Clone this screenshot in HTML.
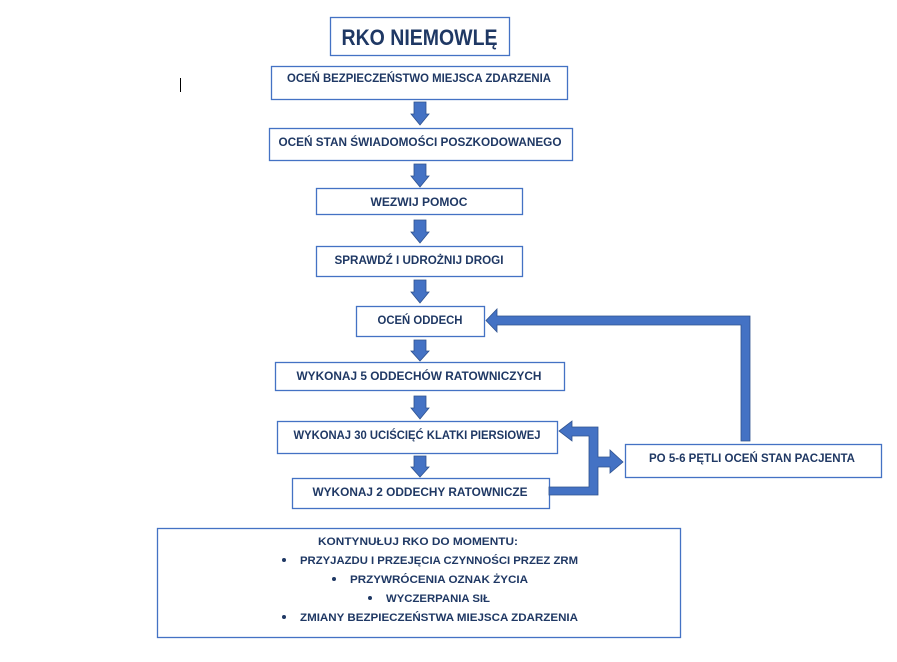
<!DOCTYPE html>
<html><head><meta charset="utf-8"><style>
html,body{margin:0;padding:0;background:#fff;}
svg{display:block;}
text{font-family:"Liberation Sans",sans-serif;font-weight:bold;fill:#1f3864;}
</style></head><body>
<svg width="897" height="662" viewBox="0 0 897 662" xmlns="http://www.w3.org/2000/svg">
<g fill="#fff" stroke="#4472c4" stroke-width="1.3">
<rect x="330.5" y="17.5" width="179" height="38"/>
<rect x="271.5" y="66.5" width="296" height="33"/>
<rect x="269.5" y="128.5" width="303" height="32"/>
<rect x="316.5" y="188.5" width="206" height="26"/>
<rect x="316.5" y="246.5" width="206" height="30"/>
<rect x="356.5" y="306.5" width="128" height="30"/>
<rect x="275.5" y="362.5" width="289" height="28"/>
<rect x="277.5" y="421.5" width="280" height="32"/>
<rect x="292.5" y="478.5" width="257" height="30"/>
<rect x="625.5" y="444.5" width="256" height="33"/>
<rect x="157.5" y="528.5" width="523" height="109"/>
</g>
<line x1="180.5" y1="78" x2="180.5" y2="92" stroke="#000" stroke-width="1"/>
<g fill="#4472c4" stroke="#2f528f" stroke-width="0.8">
<polygon points="414,102 426,102 426,114 429,114 420,125 411,114 414,114"/>
<polygon points="414,164 426,164 426,176 429,176 420,187 411,176 414,176"/>
<polygon points="414,220 426,220 426,232 429,232 420,243 411,232 414,232"/>
<polygon points="414,280 426,280 426,292 429,292 420,303 411,292 414,292"/>
<polygon points="414,340 426,340 426,351 429,351 420,361 411,351 414,351"/>
<polygon points="414,396 426,396 426,408 429,408 420,419 411,408 414,408"/>
<polygon points="414,456 426,456 426,467 429,467 420,477 411,467 414,467"/>
<polygon points="741,441 750,441 750,316 497,316 497,309 486,320.5 497,332 497,325 741,325"/>
<polygon points="549,487 589,487 589,436 572,436 572,441 559,431 572,421 572,427 598,427 598,457 610,457 610,450 623,462 610,473 610,467 598,467 598,495 549,495"/>
</g>
<text x="419.5" y="45" font-size="22" text-anchor="middle" textLength="156" lengthAdjust="spacingAndGlyphs">RKO NIEMOWLĘ</text>
<g font-size="11.5" text-anchor="middle">
<text x="419" y="82" textLength="264" lengthAdjust="spacingAndGlyphs">OCEŃ BEZPIECZEŃSTWO MIEJSCA ZDARZENIA</text>
<text x="420" y="146" textLength="283" lengthAdjust="spacingAndGlyphs">OCEŃ STAN ŚWIADOMOŚCI POSZKODOWANEGO</text>
<text x="419" y="206" textLength="97" lengthAdjust="spacingAndGlyphs">WEZWIJ POMOC</text>
<text x="419" y="264" textLength="169" lengthAdjust="spacingAndGlyphs">SPRAWDŹ I UDROŻNIJ DROGI</text>
<text x="420" y="324" textLength="85" lengthAdjust="spacingAndGlyphs">OCEŃ ODDECH</text>
<text x="419" y="380" textLength="245" lengthAdjust="spacingAndGlyphs">WYKONAJ 5 ODDECHÓW RATOWNICZYCH</text>
<text x="417" y="439" textLength="247" lengthAdjust="spacingAndGlyphs">WYKONAJ 30 UCIŚCIĘĆ KLATKI PIERSIOWEJ</text>
<text x="420" y="496" textLength="215" lengthAdjust="spacingAndGlyphs">WYKONAJ 2 ODDECHY RATOWNICZE</text>
<text x="752" y="462" textLength="206" lengthAdjust="spacingAndGlyphs">PO 5-6 PĘTLI OCEŃ STAN PACJENTA</text>
</g>
<g font-size="11" text-anchor="middle">
<text x="418" y="545" textLength="200" lengthAdjust="spacingAndGlyphs">KONTYNUŁUJ RKO DO MOMENTU:</text>
<text x="439" y="564" textLength="278" lengthAdjust="spacingAndGlyphs">PRZYJAZDU I PRZEJĘCIA CZYNNOŚCI PRZEZ ZRM</text>
<text x="439" y="583" textLength="178" lengthAdjust="spacingAndGlyphs">PRZYWRÓCENIA OZNAK ŻYCIA</text>
<text x="438" y="602" textLength="104" lengthAdjust="spacingAndGlyphs">WYCZERPANIA SIŁ</text>
<text x="439" y="621" textLength="278" lengthAdjust="spacingAndGlyphs">ZMIANY BEZPIECZEŃSTWA MIEJSCA ZDARZENIA</text>
</g>
<g fill="#1f3864">
<circle cx="284" cy="560" r="2"/>
<circle cx="334" cy="579" r="2"/>
<circle cx="370" cy="598" r="2"/>
<circle cx="284" cy="617" r="2"/>
</g>
</svg>
</body></html>
